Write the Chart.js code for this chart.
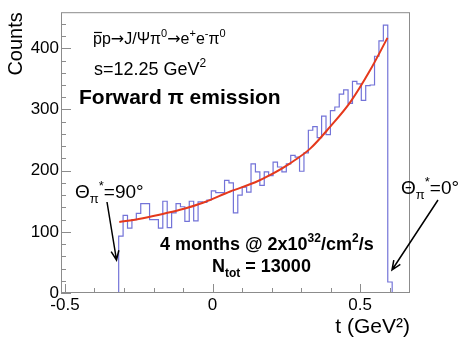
<!DOCTYPE html>
<html>
<head>
<meta charset="utf-8">
<script src="https://cdn.jsdelivr.net/npm/chart.js"></script>
<style>
    html, body { margin: 0; padding: 0; background: #fff; }
    canvas { display: block; }
</style>
</head>
<body>
<canvas id="chart" width="461" height="340"></canvas>
<script>
// histogram bins (t in GeV^2) and counts
const binStart = -0.318;
const binWidth = 0.01495;
const counts = [93, 127, 106, 120, 130, 146, 146, 120, 120, 106,
    150, 107, 131, 146, 141, 117, 150, 118, 149, 148,
    152, 167, 164, 164, 184, 180, 131, 160, 173, 165,
    211, 198, 176, 198, 192, 214, 206, 198, 211, 225,
    222, 199, 229, 266, 272, 254, 289, 259, 298, 304,
    325, 332, 310, 346, 342, 315, 339, 340, 387, 412,
    438, 18];

// fitted curve, read at a few points
const fitT = [-0.316, -0.25, -0.18, -0.11, -0.03, 0.06, 0.145, 0.196, 0.263, 0.331, 0.399, 0.467, 0.534, 0.593];
const fitY = [116, 121, 128, 136, 148, 166, 181, 193, 212, 236, 272, 312, 364, 417];

const xTicks = [-0.5, 0, 0.5];
const xTickLabels = ['-0.5', '0', '0.5'];
const yTicks = [0, 100, 200, 300, 400];
const xMin = -0.5135, xMax = 0.6693;
const yMax = 459;

const FONT = '"Liberation Sans", Arial, sans-serif';
Chart.defaults.font.family = FONT;

const histPoints = [{x: binStart, y: 0}];
counts.forEach((c, i) => histPoints.push({x: binStart + i * binWidth, y: c}));
histPoints.push({x: binStart + counts.length * binWidth, y: 0});

const fitPoints = fitT.map((t, i) => ({x: t, y: fitY[i]}));

// text with sub/superscripts, drawn left to right
function richText(ctx, x, y, parts, size, bold) {
    const w = bold ? 'bold ' : '';
    let cx = x;
    parts.forEach(p => {
        const [txt, kind] = typeof p === 'string' ? [p, 'n'] : p;
        if (kind === 'arrow') {
            ctx.font = `${size}px "DejaVu Sans"`;
            ctx.fillText('\u2192', cx, y);
            cx += ctx.measureText('\u2192').width;
            return;
        }
        const s = kind === 'n' || kind === 'bar' ? size : Math.round(size * 0.68);
        ctx.font = `${w}${s}px ${FONT}`;
        const dy = kind === 'sup' ? -size * 0.42 : kind === 'sub' ? size * 0.28 : 0;
        ctx.fillText(txt, cx, y + dy);
        const tw = ctx.measureText(txt).width;
        if (kind === 'bar') {
            ctx.beginPath();
            ctx.lineWidth = 1.2;
            ctx.moveTo(cx + 1, y - size * 0.72);
            ctx.lineTo(cx + tw, y - size * 0.72);
            ctx.stroke();
        }
        cx += tw;
    });
}

function arrow(ctx, x1, y1, x2, y2) {
    const a = Math.atan2(y2 - y1, x2 - x1);
    const h = 10;
    ctx.beginPath();
    ctx.lineWidth = 1.5;
    ctx.moveTo(x1, y1);
    ctx.lineTo(x2, y2);
    ctx.moveTo(x2 - h * Math.cos(a - 0.4), y2 - h * Math.sin(a - 0.4));
    ctx.lineTo(x2, y2);
    ctx.lineTo(x2 - h * Math.cos(a + 0.4), y2 - h * Math.sin(a + 0.4));
    ctx.stroke();
}

const frameAndText = {
    id: 'frameAndText',
    afterDraw(chart) {
        const ctx = chart.ctx;
        const {left, right, top, bottom} = chart.chartArea;
        const xs = chart.scales.x, ys = chart.scales.y;
        ctx.save();
        ctx.strokeStyle = '#8c8c8c';
        ctx.lineWidth = 1;
        ctx.strokeRect(left + 0.5, top + 0.5, right - left - 1, bottom - top - 1);

        // tick marks inside the frame
        for (let v = 0; v <= yMax; v += 20) {
            const py = Math.round(ys.getPixelForValue(v)) + 0.5;
            const len = v % 100 === 0 ? 10 : 5;
            ctx.beginPath();
            ctx.moveTo(left, py);
            ctx.lineTo(left + len, py);
            ctx.stroke();
        }
        for (let k = -5; k <= 6; k++) {
            const px = Math.round(xs.getPixelForValue(k / 10)) + 0.5;
            const len = k % 5 === 0 ? 9 : 5;
            ctx.beginPath();
            ctx.moveTo(px, bottom);
            ctx.lineTo(px, bottom - len);
            ctx.stroke();
        }

        ctx.fillStyle = '#000';
        ctx.strokeStyle = '#000';
        ctx.textBaseline = 'alphabetic';
        ctx.textAlign = 'left';
        richText(ctx, 93, 44, [['p', 'bar'], 'p', ['', 'arrow'], 'J/\u03A8\u03C0', ['0', 'sup'], ['', 'arrow'], 'e', ['+', 'sup'], 'e', ['-', 'sup'], '\u03C0', ['0', 'sup']], 16, false);
        richText(ctx, 94, 75, ['s=12.25 GeV', ['2', 'sup']], 18, false);
        richText(ctx, 79, 104, ['Forward \u03C0 emission'], 21, true);
        richText(ctx, 160, 250, ['4 months @ 2x10', ['32', 'sup'], '/cm', ['2', 'sup'], '/s'], 18, true);
        richText(ctx, 212, 272, ['N', ['tot', 'sub'], ' = 13000'], 18, true);
        richText(ctx, 75, 198, ['\u0398', ['\u03C0', 'sub'], ['*', 'sup'], '=90\u00B0'], 19, false);
        richText(ctx, 401, 194, ['\u0398', ['\u03C0', 'sub'], ['*', 'sup'], '=0\u00B0'], 19, false);

        arrow(ctx, 107, 202, 116.5, 260);
        arrow(ctx, 438, 200, 392, 270);
        ctx.restore();
    }
};

new Chart(document.getElementById('chart'), {
    type: 'line',
    data: {
        datasets: [{
            label: 'fit',
            data: fitPoints,
            borderColor: '#e5391c',
            borderWidth: 2,
            pointRadius: 0,
            cubicInterpolationMode: 'monotone'
        }, {
            label: 'counts',
            data: histPoints,
            borderColor: '#7373d8',
            borderWidth: 1.2,
            pointRadius: 0,
            stepped: true
        }]
    },
    options: {
        responsive: false,
        animation: false,
        layout: {padding: {left: 0, right: 51, top: 7, bottom: 0}},
        plugins: {
            legend: {display: false},
            tooltip: {enabled: false}
        },
        scales: {
            x: {
                type: 'linear',
                min: xMin,
                max: xMax,
                grid: {display: false, drawTicks: false},
                border: {display: false},
                afterBuildTicks: s => { s.ticks = xTicks.map(v => ({value: v})); },
                afterFit: s => { s.height = 47; },
                ticks: {
                    callback: (v, i) => xTickLabels[i],
                    font: {size: 17},
                    color: '#000',
                    padding: 2,
                    maxRotation: 0,
                    autoSkip: false
                },
                title: {display: true, text: 't (GeV\u00B2)', align: 'end', font: {size: 21}, color: '#000', padding: 0}
            },
            y: {
                min: 0,
                max: yMax,
                grid: {display: false, drawTicks: false},
                border: {display: false},
                afterBuildTicks: s => { s.ticks = yTicks.map(v => ({value: v})); },
                afterFit: s => { s.width = 61; },
                ticks: {font: {size: 17}, color: '#000', padding: 2},
                title: {display: true, text: 'Counts', align: 'end', font: {size: 20}, color: '#000', padding: {top: 4, bottom: 0}}
            }
        }
    },
    plugins: [frameAndText]
});
</script>
</body>
</html>
